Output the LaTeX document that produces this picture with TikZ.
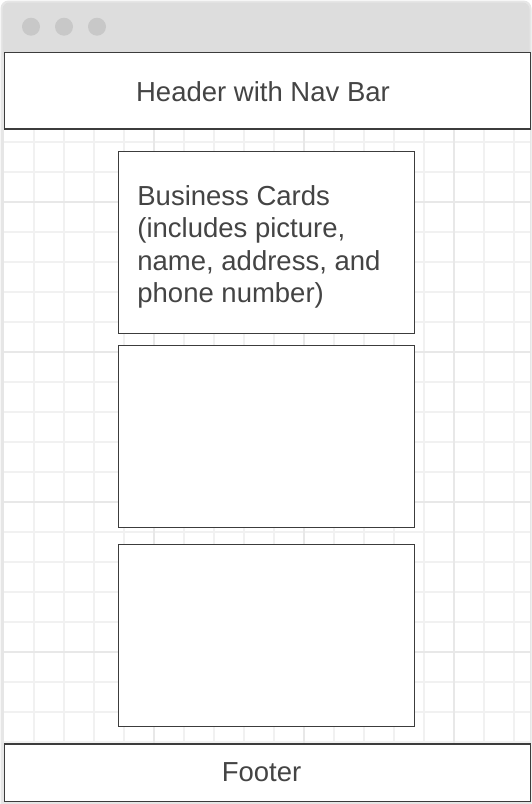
\documentclass[tikz,border=0pt]{standalone}
\usepackage{fontspec}
\setmainfont{Liberation Sans}
\definecolor{winborder}{HTML}{E6E6E6}
\definecolor{titlebar}{HTML}{DDDDDD}
\definecolor{dotgray}{HTML}{C8C8C8}
\definecolor{gridminor}{HTML}{F1F1F1}
\definecolor{gridmajor}{HTML}{E8E8E8}
\definecolor{boxline}{HTML}{3C3C3C}
\definecolor{txt}{HTML}{444444}
\tikzset{
  wire/.style={draw=boxline, line width=1.3pt, fill=white, rectangle, inner sep=0pt},
  lbl/.style={text=txt, inner sep=0pt, font=\fontsize{27.5}{32.4}\selectfont},
  dot/.style={circle, fill=dotgray, inner sep=0pt, minimum size=18pt},
}
\begin{document}
\begin{tikzpicture}[x=1pt, y=-1pt]
\useasboundingbox (0,0) rectangle (532,804);
% window frame
\fill[winborder, rounded corners=8pt] (0.5,0.5) rectangle (531.5,830);
\fill[titlebar, rounded corners=7pt] (2.5,2.5) rectangle (529.5,60);
\node[dot] (d1) at (31,26.7) {};
\node[dot] (d2) at (64,26.7) {};
\node[dot] (d3) at (97,26.7) {};
% content area
\fill[white] (4.3,129) rectangle (530.3,744);
\foreach \x in {34,64,...,514} \draw[gridminor, line width=1.2pt] (\x,129) -- (\x,744);
\foreach \y in {142,172,...,742} \draw[gridminor, line width=1.2pt] (4.3,\y) -- (530.3,\y);
\foreach \x in {154,304,454} \draw[gridmajor, line width=1.4pt] (\x,129) -- (\x,744);
\foreach \y in {202,352,502,652} \draw[gridmajor, line width=1.4pt] (4.3,\y) -- (530.3,\y);
% header and footer
\node[wire, minimum width=526pt, minimum height=76.7pt] (header) at (267.3,90.65) {};
\node[lbl, anchor=base] (headertext) at (263,101.7) {Header with Nav Bar};
\node[wire, minimum width=526pt, minimum height=57.3pt] (footer) at (267.3,772.65) {};
\node[lbl, anchor=base] (footertext) at (261.5,781.7) {Footer};
% cards
\node[wire, minimum width=296pt, minimum height=182pt] (card1) at (266.3,242.6) {};
\node[wire, minimum width=296pt, minimum height=182pt] (card2) at (266.3,436.3) {};
\node[wire, minimum width=296pt, minimum height=182pt] (card3) at (266.3,635.6) {};
\node[lbl, anchor=base west, align=left] (cardtext) at (137.2,302.5)
  {Business Cards\\(includes picture,\\name, address, and\\phone number)};
\end{tikzpicture}
\end{document}
